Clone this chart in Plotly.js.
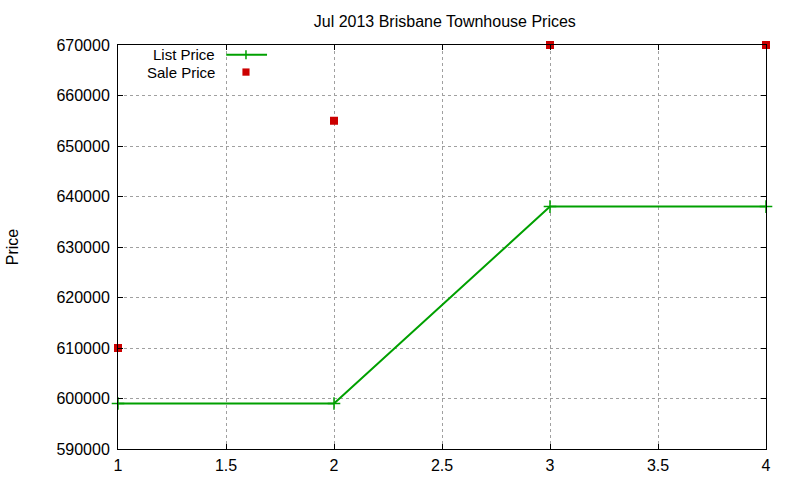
<!DOCTYPE html>
<html>
<head>
<meta charset="utf-8">
<script src="https://cdn.plot.ly/plotly-3.0.1.min.js"></script>
<style>
  html, body { margin: 0; padding: 0; background: #fff; }
  #chart { width: 800px; height: 480px; }
</style>
</head>
<body>
<div id="chart"></div>
<script>
// months index on x, prices
const xs = [1, 2, 3, 4];
const listPrice = [599000, 599000, 638000, 638000];
const salePrice = [610000, 655000, 670000, 670000];

const xTicks = [1, 1.5, 2, 2.5, 3, 3.5, 4];
const yTicks = [590000, 600000, 610000, 620000, 630000, 640000, 650000, 660000, 670000];

const GREEN = "#00a000";
const RED = "#cc0000";
const FONT = "Liberation Sans, Arial, sans-serif";
const FS = 16;

const traces = [
  {
    x: xs,
    y: listPrice,
    type: "scatter",
    mode: "lines+markers",
    name: "List Price",
    line: { color: GREEN, width: 2 },
    marker: { symbol: "cross-thin", size: 9, line: { color: GREEN, width: 1.5 } },
    cliponaxis: false,
  },
  {
    x: xs,
    y: salePrice,
    type: "scatter",
    mode: "markers",
    name: "Sale Price",
    marker: { symbol: "square", size: 8, color: RED },
    cliponaxis: false,
  },
];

// gnuplot-style legend: text right-aligned, sample to the right
const legendText = ["List Price", "Sale Price"];
const legendY = [0.976, 0.933];
const annotations = legendText.map((t, i) => ({
  xref: "paper", yref: "paper",
  x: 0.152, y: legendY[i],
  xanchor: "right", yanchor: "middle",
  text: t, showarrow: false,
  borderpad: 0,
  font: { family: FONT, size: 15, color: "#000" },
}));

const layout = {
  width: 800,
  height: 480,
  margin: { l: 118, r: 34, t: 45, b: 31 },
  paper_bgcolor: "#fff",
  plot_bgcolor: "#fff",
  showlegend: false,
  font: { family: FONT, size: FS, color: "#000" },
  title: {
    text: "Jul 2013 Brisbane Townhouse Prices",
    font: { family: FONT, size: FS, color: "#000" },
    x: 0.556, xanchor: "center",
    y: 0.956, yanchor: "middle",
  },
  xaxis: {
    range: [1, 4],
    tickvals: xTicks,
    ticktext: xTicks.map(String),
    ticks: "inside",
    ticklen: 5,
    tickcolor: "#000",
    showline: true,
    linecolor: "#000",
    linewidth: 1,
    mirror: "allticks",
    showgrid: true,
    gridcolor: "#a0a0a0",
    griddash: "dot",
    gridwidth: 1,
    zeroline: false,
    ticklabelstandoff: 2,
    tickfont: { family: FONT, size: FS, color: "#000" },
  },
  yaxis: {
    range: [590000, 670000],
    tickvals: yTicks,
    ticktext: yTicks.map(String),
    ticks: "inside",
    ticklen: 5,
    tickcolor: "#000",
    showline: true,
    linecolor: "#000",
    linewidth: 1,
    mirror: "allticks",
    showgrid: true,
    gridcolor: "#a0a0a0",
    griddash: "dot",
    gridwidth: 1,
    zeroline: false,
    ticklabelstandoff: 4,
    tickfont: { family: FONT, size: FS, color: "#000" },
    title: {
      text: "Price",
      font: { family: FONT, size: FS, color: "#000" },
      standoff: 33,
    },
  },
  annotations: annotations,
  shapes: [
    // List Price sample: line with a cross
    { type: "line", xref: "paper", yref: "paper", x0: 0.167, x1: 0.230, y0: legendY[0], y1: legendY[0],
      line: { color: GREEN, width: 2 } },
    { type: "line", xref: "paper", yref: "paper", x0: 0.1975, x1: 0.1975, y0: legendY[0] - 0.011, y1: legendY[0] + 0.011,
      line: { color: GREEN, width: 1.5 } },
    // Sale Price sample: red square
    { type: "rect", xref: "paper", yref: "paper", x0: 0.192, x1: 0.203, y0: legendY[1] - 0.009, y1: legendY[1] + 0.009,
      fillcolor: RED, line: { width: 0 } },
  ],
};

Plotly.newPlot("chart", traces, layout, { staticPlot: true, displayModeBar: false });
</script>
</body>
</html>
